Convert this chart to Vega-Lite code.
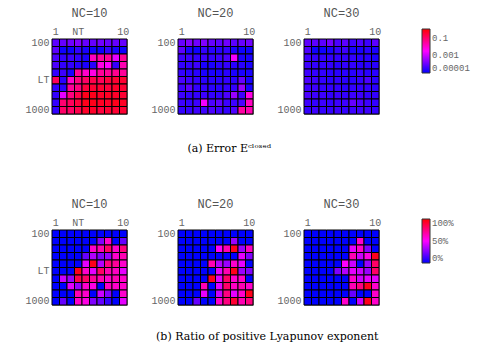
{
"$schema": "https://vega.github.io/schema/vega-lite/v6.json",
"padding": {"left": 24, "top": 6, "right": 5, "bottom": 5},
"background": "white",
"datasets": {
"e10": [
{"r":1,"c":1,"v":7.94e-5},{"r":1,"c":2,"v":1e-4},{"r":1,"c":3,"v":1.26e-4},{"r":1,"c":4,"v":1.78e-4},{"r":1,"c":5,"v":1e-4},{"r":1,"c":6,"v":1e-4},{"r":1,"c":7,"v":1.26e-4},{"r":1,"c":8,"v":1e-4},{"r":1,"c":9,"v":1e-4},{"r":1,"c":10,"v":1e-4},
{"r":2,"c":1,"v":7.94e-5},{"r":2,"c":2,"v":1.41e-5},{"r":2,"c":3,"v":1.41e-5},{"r":2,"c":4,"v":3.16e-5},{"r":2,"c":5,"v":1.78e-5},{"r":2,"c":6,"v":1.41e-5},{"r":2,"c":7,"v":1.41e-5},{"r":2,"c":8,"v":3.16e-5},{"r":2,"c":9,"v":1.78e-5},{"r":2,"c":10,"v":1.41e-5},
{"r":3,"c":1,"v":5.62e-5},{"r":3,"c":2,"v":3.16e-5},{"r":3,"c":3,"v":3.98e-5},{"r":3,"c":4,"v":3.16e-5},{"r":3,"c":5,"v":1.78e-5},{"r":3,"c":6,"v":0.0126},{"r":3,"c":7,"v":0.0251},{"r":3,"c":8,"v":0.0316},{"r":3,"c":9,"v":0.00178},{"r":3,"c":10,"v":0.0316},
{"r":4,"c":1,"v":5.62e-5},{"r":4,"c":2,"v":3.16e-5},{"r":4,"c":3,"v":3.16e-5},{"r":4,"c":4,"v":2.51e-5},{"r":4,"c":5,"v":1.78e-5},{"r":4,"c":6,"v":2.51e-5},{"r":4,"c":7,"v":0.00562},{"r":4,"c":8,"v":0.00316},{"r":4,"c":9,"v":3.16e-5},{"r":4,"c":10,"v":0.0178},
{"r":5,"c":1,"v":3.16e-5},{"r":5,"c":2,"v":3.98e-5},{"r":5,"c":3,"v":1.78e-5},{"r":5,"c":4,"v":0.0316},{"r":5,"c":5,"v":0.01},{"r":5,"c":6,"v":0.00562},{"r":5,"c":7,"v":0.0316},{"r":5,"c":8,"v":0.0316},{"r":5,"c":9,"v":0.0398},{"r":5,"c":10,"v":0.0316},
{"r":6,"c":1,"v":0.126},{"r":6,"c":2,"v":2.51e-5},{"r":6,"c":3,"v":0.01},{"r":6,"c":4,"v":0.0562},{"r":6,"c":5,"v":0.1},{"r":6,"c":6,"v":0.178},{"r":6,"c":7,"v":0.126},{"r":6,"c":8,"v":0.251},{"r":6,"c":9,"v":0.316},{"r":6,"c":10,"v":0.316},
{"r":7,"c":1,"v":3.16e-5},{"r":7,"c":2,"v":2.51e-5},{"r":7,"c":3,"v":0.0316},{"r":7,"c":4,"v":0.0562},{"r":7,"c":5,"v":0.251},{"r":7,"c":6,"v":0.316},{"r":7,"c":7,"v":0.316},{"r":7,"c":8,"v":0.251},{"r":7,"c":9,"v":0.398},{"r":7,"c":10,"v":0.316},
{"r":8,"c":1,"v":3.16e-5},{"r":8,"c":2,"v":0.00178},{"r":8,"c":3,"v":0.0562},{"r":8,"c":4,"v":0.178},{"r":8,"c":5,"v":0.562},{"r":8,"c":6,"v":0.562},{"r":8,"c":7,"v":0.398},{"r":8,"c":8,"v":0.447},{"r":8,"c":9,"v":0.398},{"r":8,"c":10,"v":0.316},
{"r":9,"c":1,"v":3.16e-5},{"r":9,"c":2,"v":0.0794},{"r":9,"c":3,"v":0.126},{"r":9,"c":4,"v":0.251},{"r":9,"c":5,"v":0.562},{"r":9,"c":6,"v":0.562},{"r":9,"c":7,"v":0.447},{"r":9,"c":8,"v":0.398},{"r":9,"c":9,"v":0.562},{"r":9,"c":10,"v":0.447},
{"r":10,"c":1,"v":3.16e-5},{"r":10,"c":2,"v":0.1},{"r":10,"c":3,"v":0.1},{"r":10,"c":4,"v":0.178},{"r":10,"c":5,"v":0.398},{"r":10,"c":6,"v":0.398},{"r":10,"c":7,"v":0.251},{"r":10,"c":8,"v":0.316},{"r":10,"c":9,"v":0.316},{"r":10,"c":10,"v":0.316}
],
"e20": [
{"r":1,"c":1,"v":1e-4},{"r":1,"c":2,"v":1.78e-4},{"r":1,"c":3,"v":1.26e-4},{"r":1,"c":4,"v":1.78e-4},{"r":1,"c":5,"v":1e-4},{"r":1,"c":6,"v":7.94e-5},{"r":1,"c":7,"v":1.26e-4},{"r":1,"c":8,"v":7.94e-5},{"r":1,"c":9,"v":1e-4},{"r":1,"c":10,"v":1.26e-4},
{"r":2,"c":1,"v":7.94e-5},{"r":2,"c":2,"v":1.78e-5},{"r":2,"c":3,"v":1.41e-5},{"r":2,"c":4,"v":3.16e-5},{"r":2,"c":5,"v":2.51e-5},{"r":2,"c":6,"v":2.51e-5},{"r":2,"c":7,"v":3.16e-5},{"r":2,"c":8,"v":1.78e-5},{"r":2,"c":9,"v":1.41e-5},{"r":2,"c":10,"v":1.41e-5},
{"r":3,"c":1,"v":3.98e-5},{"r":3,"c":2,"v":3.98e-5},{"r":3,"c":3,"v":3.16e-5},{"r":3,"c":4,"v":3.98e-5},{"r":3,"c":5,"v":3.16e-5},{"r":3,"c":6,"v":3.98e-5},{"r":3,"c":7,"v":5.62e-5},{"r":3,"c":8,"v":0.0025},{"r":3,"c":9,"v":1.78e-5},{"r":3,"c":10,"v":1.78e-5},
{"r":4,"c":1,"v":3.16e-5},{"r":4,"c":2,"v":3.16e-5},{"r":4,"c":3,"v":3.98e-5},{"r":4,"c":4,"v":1.78e-5},{"r":4,"c":5,"v":1.78e-5},{"r":4,"c":6,"v":2.51e-5},{"r":4,"c":7,"v":3.16e-5},{"r":4,"c":8,"v":2.51e-5},{"r":4,"c":9,"v":2.51e-5},{"r":4,"c":10,"v":1.78e-5},
{"r":5,"c":1,"v":3.16e-5},{"r":5,"c":2,"v":2.51e-5},{"r":5,"c":3,"v":2.51e-5},{"r":5,"c":4,"v":1.78e-5},{"r":5,"c":5,"v":1.78e-5},{"r":5,"c":6,"v":1.78e-5},{"r":5,"c":7,"v":2.51e-5},{"r":5,"c":8,"v":1.78e-5},{"r":5,"c":9,"v":1.78e-5},{"r":5,"c":10,"v":1.78e-5},
{"r":6,"c":1,"v":5.62e-5},{"r":6,"c":2,"v":3.98e-5},{"r":6,"c":3,"v":3.16e-5},{"r":6,"c":4,"v":2.51e-5},{"r":6,"c":5,"v":2.51e-5},{"r":6,"c":6,"v":2.51e-5},{"r":6,"c":7,"v":3.16e-5},{"r":6,"c":8,"v":2.51e-5},{"r":6,"c":9,"v":1e-4},{"r":6,"c":10,"v":1.78e-5},
{"r":7,"c":1,"v":3.98e-5},{"r":7,"c":2,"v":7.94e-5},{"r":7,"c":3,"v":3.16e-5},{"r":7,"c":4,"v":3.16e-5},{"r":7,"c":5,"v":2.51e-5},{"r":7,"c":6,"v":2.51e-5},{"r":7,"c":7,"v":3.16e-5},{"r":7,"c":8,"v":3.16e-5},{"r":7,"c":9,"v":3.16e-4},{"r":7,"c":10,"v":1.78e-5},
{"r":8,"c":1,"v":3.98e-5},{"r":8,"c":2,"v":3.16e-5},{"r":8,"c":3,"v":3.16e-5},{"r":8,"c":4,"v":3.98e-5},{"r":8,"c":5,"v":3.16e-5},{"r":8,"c":6,"v":3.16e-5},{"r":8,"c":7,"v":5.62e-5},{"r":8,"c":8,"v":3.16e-4},{"r":8,"c":9,"v":3.98e-5},{"r":8,"c":10,"v":0.00562},
{"r":9,"c":1,"v":3.98e-5},{"r":9,"c":2,"v":3.16e-5},{"r":9,"c":3,"v":3.98e-5},{"r":9,"c":4,"v":0.0025},{"r":9,"c":5,"v":5.62e-5},{"r":9,"c":6,"v":7.94e-5},{"r":9,"c":7,"v":3.98e-5},{"r":9,"c":8,"v":3.98e-5},{"r":9,"c":9,"v":5.62e-5},{"r":9,"c":10,"v":0.0126},
{"r":10,"c":1,"v":3.16e-5},{"r":10,"c":2,"v":3.16e-5},{"r":10,"c":3,"v":3.98e-5},{"r":10,"c":4,"v":3.98e-5},{"r":10,"c":5,"v":5.62e-5},{"r":10,"c":6,"v":3.98e-5},{"r":10,"c":7,"v":3.16e-5},{"r":10,"c":8,"v":5.62e-5},{"r":10,"c":9,"v":0.0251},{"r":10,"c":10,"v":0.0178}
],
"e30": [
{"r":1,"c":1,"v":7.94e-5},{"r":1,"c":2,"v":7.94e-5},{"r":1,"c":3,"v":7.94e-5},{"r":1,"c":4,"v":1.26e-4},{"r":1,"c":5,"v":5.62e-5},{"r":1,"c":6,"v":7.94e-5},{"r":1,"c":7,"v":3.98e-5},{"r":1,"c":8,"v":5.62e-5},{"r":1,"c":9,"v":3.98e-5},{"r":1,"c":10,"v":7.94e-5},
{"r":2,"c":1,"v":5.62e-5},{"r":2,"c":2,"v":1.41e-5},{"r":2,"c":3,"v":1.41e-5},{"r":2,"c":4,"v":1.78e-5},{"r":2,"c":5,"v":3.16e-5},{"r":2,"c":6,"v":3.98e-5},{"r":2,"c":7,"v":1.78e-5},{"r":2,"c":8,"v":1.78e-5},{"r":2,"c":9,"v":2.51e-5},{"r":2,"c":10,"v":1.78e-5},
{"r":3,"c":1,"v":3.98e-5},{"r":3,"c":2,"v":3.16e-5},{"r":3,"c":3,"v":3.16e-5},{"r":3,"c":4,"v":3.16e-5},{"r":3,"c":5,"v":3.16e-5},{"r":3,"c":6,"v":3.16e-5},{"r":3,"c":7,"v":3.16e-5},{"r":3,"c":8,"v":2.51e-5},{"r":3,"c":9,"v":2.51e-5},{"r":3,"c":10,"v":1.78e-5},
{"r":4,"c":1,"v":3.98e-5},{"r":4,"c":2,"v":3.16e-5},{"r":4,"c":3,"v":3.16e-5},{"r":4,"c":4,"v":3.16e-5},{"r":4,"c":5,"v":2.51e-5},{"r":4,"c":6,"v":3.16e-5},{"r":4,"c":7,"v":3.16e-5},{"r":4,"c":8,"v":2.51e-5},{"r":4,"c":9,"v":2.51e-5},{"r":4,"c":10,"v":2.51e-5},
{"r":5,"c":1,"v":3.98e-5},{"r":5,"c":2,"v":3.16e-5},{"r":5,"c":3,"v":3.16e-5},{"r":5,"c":4,"v":2.51e-5},{"r":5,"c":5,"v":2.51e-5},{"r":5,"c":6,"v":2.51e-5},{"r":5,"c":7,"v":2.51e-5},{"r":5,"c":8,"v":3.16e-5},{"r":5,"c":9,"v":2.51e-5},{"r":5,"c":10,"v":2.51e-5},
{"r":6,"c":1,"v":5.62e-5},{"r":6,"c":2,"v":3.98e-5},{"r":6,"c":3,"v":3.16e-5},{"r":6,"c":4,"v":2.51e-5},{"r":6,"c":5,"v":3.16e-5},{"r":6,"c":6,"v":2.51e-5},{"r":6,"c":7,"v":2.51e-5},{"r":6,"c":8,"v":3.16e-5},{"r":6,"c":9,"v":5.62e-5},{"r":6,"c":10,"v":2.51e-5},
{"r":7,"c":1,"v":3.98e-5},{"r":7,"c":2,"v":3.98e-5},{"r":7,"c":3,"v":3.16e-5},{"r":7,"c":4,"v":3.16e-5},{"r":7,"c":5,"v":3.16e-5},{"r":7,"c":6,"v":2.51e-5},{"r":7,"c":7,"v":3.16e-5},{"r":7,"c":8,"v":3.16e-5},{"r":7,"c":9,"v":3.16e-5},{"r":7,"c":10,"v":2.51e-5},
{"r":8,"c":1,"v":5.62e-5},{"r":8,"c":2,"v":3.98e-5},{"r":8,"c":3,"v":3.98e-5},{"r":8,"c":4,"v":3.16e-5},{"r":8,"c":5,"v":3.98e-5},{"r":8,"c":6,"v":3.16e-5},{"r":8,"c":7,"v":3.98e-5},{"r":8,"c":8,"v":3.98e-5},{"r":8,"c":9,"v":3.16e-5},{"r":8,"c":10,"v":3.16e-5},
{"r":9,"c":1,"v":3.98e-5},{"r":9,"c":2,"v":3.16e-5},{"r":9,"c":3,"v":3.98e-5},{"r":9,"c":4,"v":3.16e-5},{"r":9,"c":5,"v":3.98e-5},{"r":9,"c":6,"v":3.98e-5},{"r":9,"c":7,"v":1e-4},{"r":9,"c":8,"v":5.62e-5},{"r":9,"c":9,"v":3.98e-5},{"r":9,"c":10,"v":3.16e-5},
{"r":10,"c":1,"v":3.16e-5},{"r":10,"c":2,"v":3.98e-5},{"r":10,"c":3,"v":3.16e-5},{"r":10,"c":4,"v":3.16e-5},{"r":10,"c":5,"v":3.98e-5},{"r":10,"c":6,"v":3.16e-5},{"r":10,"c":7,"v":3.98e-5},{"r":10,"c":8,"v":3.98e-5},{"r":10,"c":9,"v":3.98e-5},{"r":10,"c":10,"v":3.16e-5}
],
"l10": [
{"r":1,"c":1,"v":0},{"r":1,"c":2,"v":0},{"r":1,"c":3,"v":0},{"r":1,"c":4,"v":0},{"r":1,"c":5,"v":0},{"r":1,"c":6,"v":0},{"r":1,"c":7,"v":0},{"r":1,"c":8,"v":0},{"r":1,"c":9,"v":0},{"r":1,"c":10,"v":0},
{"r":2,"c":1,"v":0},{"r":2,"c":2,"v":0},{"r":2,"c":3,"v":0},{"r":2,"c":4,"v":0},{"r":2,"c":5,"v":0},{"r":2,"c":6,"v":0},{"r":2,"c":7,"v":0.25},{"r":2,"c":8,"v":0.6},{"r":2,"c":9,"v":0},{"r":2,"c":10,"v":0.2},
{"r":3,"c":1,"v":0},{"r":3,"c":2,"v":0},{"r":3,"c":3,"v":0},{"r":3,"c":4,"v":0},{"r":3,"c":5,"v":0},{"r":3,"c":6,"v":0.6},{"r":3,"c":7,"v":0.65},{"r":3,"c":8,"v":0.8},{"r":3,"c":9,"v":0.6},{"r":3,"c":10,"v":0.75},
{"r":4,"c":1,"v":0},{"r":4,"c":2,"v":0},{"r":4,"c":3,"v":0},{"r":4,"c":4,"v":0},{"r":4,"c":5,"v":0.2},{"r":4,"c":6,"v":0.35},{"r":4,"c":7,"v":0.25},{"r":4,"c":8,"v":0.3},{"r":4,"c":9,"v":0.6},{"r":4,"c":10,"v":0.65},
{"r":5,"c":1,"v":0},{"r":5,"c":2,"v":0},{"r":5,"c":3,"v":0},{"r":5,"c":4,"v":0},{"r":5,"c":5,"v":0.45},{"r":5,"c":6,"v":0.95},{"r":5,"c":7,"v":0.35},{"r":5,"c":8,"v":0.75},{"r":5,"c":9,"v":0.7},{"r":5,"c":10,"v":0.6},
{"r":6,"c":1,"v":0},{"r":6,"c":2,"v":0},{"r":6,"c":3,"v":0},{"r":6,"c":4,"v":0.95},{"r":6,"c":5,"v":0.6},{"r":6,"c":6,"v":0.45},{"r":6,"c":7,"v":0.8},{"r":6,"c":8,"v":0.65},{"r":6,"c":9,"v":0.62},{"r":6,"c":10,"v":0.45},
{"r":7,"c":1,"v":0},{"r":7,"c":2,"v":0.4},{"r":7,"c":3,"v":0.3},{"r":7,"c":4,"v":0.85},{"r":7,"c":5,"v":0.8},{"r":7,"c":6,"v":0.7},{"r":7,"c":7,"v":0.65},{"r":7,"c":8,"v":0.6},{"r":7,"c":9,"v":0.65},{"r":7,"c":10,"v":0.6},
{"r":8,"c":1,"v":0},{"r":8,"c":2,"v":0},{"r":8,"c":3,"v":0.45},{"r":8,"c":4,"v":0.3},{"r":8,"c":5,"v":0.6},{"r":8,"c":6,"v":0.55},{"r":8,"c":7,"v":0},{"r":8,"c":8,"v":0.62},{"r":8,"c":9,"v":0.6},{"r":8,"c":10,"v":0.6},
{"r":9,"c":1,"v":0},{"r":9,"c":2,"v":0},{"r":9,"c":3,"v":0},{"r":9,"c":4,"v":0.65},{"r":9,"c":5,"v":0.6},{"r":9,"c":6,"v":0},{"r":9,"c":7,"v":0.4},{"r":9,"c":8,"v":0.25},{"r":9,"c":9,"v":0},{"r":9,"c":10,"v":0.6},
{"r":10,"c":1,"v":0},{"r":10,"c":2,"v":0.2},{"r":10,"c":3,"v":0},{"r":10,"c":4,"v":0.6},{"r":10,"c":5,"v":0.55},{"r":10,"c":6,"v":0.25},{"r":10,"c":7,"v":0.2},{"r":10,"c":8,"v":0.1},{"r":10,"c":9,"v":0},{"r":10,"c":10,"v":0.45}
],
"l20": [
{"r":1,"c":1,"v":0},{"r":1,"c":2,"v":0},{"r":1,"c":3,"v":0},{"r":1,"c":4,"v":0},{"r":1,"c":5,"v":0},{"r":1,"c":6,"v":0},{"r":1,"c":7,"v":0},{"r":1,"c":8,"v":0},{"r":1,"c":9,"v":0},{"r":1,"c":10,"v":0},
{"r":2,"c":1,"v":0},{"r":2,"c":2,"v":0},{"r":2,"c":3,"v":0},{"r":2,"c":4,"v":0},{"r":2,"c":5,"v":0},{"r":2,"c":6,"v":0},{"r":2,"c":7,"v":0},{"r":2,"c":8,"v":0.3},{"r":2,"c":9,"v":0},{"r":2,"c":10,"v":0},
{"r":3,"c":1,"v":0},{"r":3,"c":2,"v":0},{"r":3,"c":3,"v":0},{"r":3,"c":4,"v":0},{"r":3,"c":5,"v":0},{"r":3,"c":6,"v":0.5},{"r":3,"c":7,"v":0.65},{"r":3,"c":8,"v":0.95},{"r":3,"c":9,"v":0.3},{"r":3,"c":10,"v":0.62},
{"r":4,"c":1,"v":0},{"r":4,"c":2,"v":0},{"r":4,"c":3,"v":0},{"r":4,"c":4,"v":0},{"r":4,"c":5,"v":0},{"r":4,"c":6,"v":0},{"r":4,"c":7,"v":0},{"r":4,"c":8,"v":0},{"r":4,"c":9,"v":0.45},{"r":4,"c":10,"v":0.25},
{"r":5,"c":1,"v":0},{"r":5,"c":2,"v":0},{"r":5,"c":3,"v":0},{"r":5,"c":4,"v":0},{"r":5,"c":5,"v":0.65},{"r":5,"c":6,"v":0.35},{"r":5,"c":7,"v":0.3},{"r":5,"c":8,"v":0.6},{"r":5,"c":9,"v":0.45},{"r":5,"c":10,"v":0},
{"r":6,"c":1,"v":0},{"r":6,"c":2,"v":0},{"r":6,"c":3,"v":0},{"r":6,"c":4,"v":0},{"r":6,"c":5,"v":0},{"r":6,"c":6,"v":0.45},{"r":6,"c":7,"v":0.65},{"r":6,"c":8,"v":0.95},{"r":6,"c":9,"v":0.3},{"r":6,"c":10,"v":0.25},
{"r":7,"c":1,"v":0},{"r":7,"c":2,"v":0},{"r":7,"c":3,"v":0},{"r":7,"c":4,"v":0},{"r":7,"c":5,"v":0.95},{"r":7,"c":6,"v":0.45},{"r":7,"c":7,"v":0.8},{"r":7,"c":8,"v":0.6},{"r":7,"c":9,"v":0.6},{"r":7,"c":10,"v":0},
{"r":8,"c":1,"v":0},{"r":8,"c":2,"v":0},{"r":8,"c":3,"v":0},{"r":8,"c":4,"v":0.65},{"r":8,"c":5,"v":0},{"r":8,"c":6,"v":0.45},{"r":8,"c":7,"v":0.8},{"r":8,"c":8,"v":0.62},{"r":8,"c":9,"v":0.65},{"r":8,"c":10,"v":0.6},
{"r":9,"c":1,"v":0},{"r":9,"c":2,"v":0},{"r":9,"c":3,"v":0},{"r":9,"c":4,"v":0.45},{"r":9,"c":5,"v":0},{"r":9,"c":6,"v":0.4},{"r":9,"c":7,"v":0.75},{"r":9,"c":8,"v":0.45},{"r":9,"c":9,"v":0.6},{"r":9,"c":10,"v":0.95},
{"r":10,"c":1,"v":0},{"r":10,"c":2,"v":0},{"r":10,"c":3,"v":0.2},{"r":10,"c":4,"v":0},{"r":10,"c":5,"v":0},{"r":10,"c":6,"v":0.6},{"r":10,"c":7,"v":0.75},{"r":10,"c":8,"v":0.9},{"r":10,"c":9,"v":0.65},{"r":10,"c":10,"v":0.75}
],
"l30": [
{"r":1,"c":1,"v":0},{"r":1,"c":2,"v":0},{"r":1,"c":3,"v":0},{"r":1,"c":4,"v":0},{"r":1,"c":5,"v":0},{"r":1,"c":6,"v":0},{"r":1,"c":7,"v":0},{"r":1,"c":8,"v":0},{"r":1,"c":9,"v":0},{"r":1,"c":10,"v":0},
{"r":2,"c":1,"v":0},{"r":2,"c":2,"v":0},{"r":2,"c":3,"v":0},{"r":2,"c":4,"v":0},{"r":2,"c":5,"v":0},{"r":2,"c":6,"v":0},{"r":2,"c":7,"v":0},{"r":2,"c":8,"v":0.6},{"r":2,"c":9,"v":0},{"r":2,"c":10,"v":0},
{"r":3,"c":1,"v":0},{"r":3,"c":2,"v":0},{"r":3,"c":3,"v":0},{"r":3,"c":4,"v":0},{"r":3,"c":5,"v":0},{"r":3,"c":6,"v":0},{"r":3,"c":7,"v":0.45},{"r":3,"c":8,"v":0.6},{"r":3,"c":9,"v":0.25},{"r":3,"c":10,"v":0},
{"r":4,"c":1,"v":0},{"r":4,"c":2,"v":0},{"r":4,"c":3,"v":0},{"r":4,"c":4,"v":0},{"r":4,"c":5,"v":0},{"r":4,"c":6,"v":0},{"r":4,"c":7,"v":0.65},{"r":4,"c":8,"v":0.4},{"r":4,"c":9,"v":0.55},{"r":4,"c":10,"v":0.95},
{"r":5,"c":1,"v":0},{"r":5,"c":2,"v":0},{"r":5,"c":3,"v":0},{"r":5,"c":4,"v":0},{"r":5,"c":5,"v":0},{"r":5,"c":6,"v":0.5},{"r":5,"c":7,"v":0.4},{"r":5,"c":8,"v":0},{"r":5,"c":9,"v":0.3},{"r":5,"c":10,"v":0.8},
{"r":6,"c":1,"v":0},{"r":6,"c":2,"v":0},{"r":6,"c":3,"v":0},{"r":6,"c":4,"v":0},{"r":6,"c":5,"v":0.25},{"r":6,"c":6,"v":0.35},{"r":6,"c":7,"v":0.45},{"r":6,"c":8,"v":0.4},{"r":6,"c":9,"v":0.3},{"r":6,"c":10,"v":0.8},
{"r":7,"c":1,"v":0},{"r":7,"c":2,"v":0},{"r":7,"c":3,"v":0},{"r":7,"c":4,"v":0},{"r":7,"c":5,"v":0},{"r":7,"c":6,"v":0},{"r":7,"c":7,"v":0.6},{"r":7,"c":8,"v":0.4},{"r":7,"c":9,"v":0.45},{"r":7,"c":10,"v":0.45},
{"r":8,"c":1,"v":0},{"r":8,"c":2,"v":0},{"r":8,"c":3,"v":0},{"r":8,"c":4,"v":0},{"r":8,"c":5,"v":0},{"r":8,"c":6,"v":0},{"r":8,"c":7,"v":0.65},{"r":8,"c":8,"v":0.75},{"r":8,"c":9,"v":0.95},{"r":8,"c":10,"v":0.6},
{"r":9,"c":1,"v":0},{"r":9,"c":2,"v":0},{"r":9,"c":3,"v":0},{"r":9,"c":4,"v":0},{"r":9,"c":5,"v":0},{"r":9,"c":6,"v":0},{"r":9,"c":7,"v":0.2},{"r":9,"c":8,"v":0},{"r":9,"c":9,"v":0},{"r":9,"c":10,"v":0.6},
{"r":10,"c":1,"v":0},{"r":10,"c":2,"v":0},{"r":10,"c":3,"v":0},{"r":10,"c":4,"v":0},{"r":10,"c":5,"v":0},{"r":10,"c":6,"v":0.6},{"r":10,"c":7,"v":0},{"r":10,"c":8,"v":0.4},{"r":10,"c":9,"v":0.95},{"r":10,"c":10,"v":0.6}
]
},
"vconcat": [
{
"title": {"text": "(a) Error Eᶜˡᵒˢᵉᵈ", "orient": "bottom", "anchor": "middle", "font": "DejaVu Serif", "fontSize": 11, "fontWeight": "normal", "color": "#000", "offset": 28, "dx": -18},
"spacing": 20,
"hconcat": [
{"data": {"name": "e10"}, "title": "NC=10", "width": 75, "height": 75,
 "mark": {"type": "rect", "stroke": "#000", "strokeWidth": 1},
 "encoding": {
  "x": {"field": "c", "type": "ordinal", "title": null, "axis": {"orient": "top", "labelExpr": "datum.value == 1 ? '1' : datum.value == 4 ? 'NT' : datum.value == 10 ? '10' : ''"}},
  "y": {"field": "r", "type": "ordinal", "title": null, "axis": {"labelExpr": "datum.value == 1 ? '100' : datum.value == 6 ? 'LT' : datum.value == 10 ? '1000' : ''"}},
  "color": {"field": "v", "type": "quantitative", "scale": {"type": "log", "domain": [0.00001, 0.00316, 1], "range": ["#0000ff", "#ff00ff", "#ff0000"], "interpolate": "rgb", "clamp": true}, "legend": {"title": null, "values": [0.00001, 0.001, 0.1], "format": ".5~f", "orient": "none", "legendX": 370, "legendY": -10}}
 }},
{"data": {"name": "e20"}, "title": "NC=20", "width": 75, "height": 75,
 "mark": {"type": "rect", "stroke": "#000", "strokeWidth": 1},
 "encoding": {
  "x": {"field": "c", "type": "ordinal", "title": null, "axis": {"orient": "top", "labelExpr": "datum.value == 1 ? '1' : datum.value == 10 ? '10' : ''"}},
  "y": {"field": "r", "type": "ordinal", "title": null, "axis": {"labelExpr": "datum.value == 1 ? '100' : datum.value == 10 ? '1000' : ''"}},
  "color": {"field": "v", "type": "quantitative", "scale": {"type": "log", "domain": [0.00001, 0.00316, 1], "range": ["#0000ff", "#ff00ff", "#ff0000"], "interpolate": "rgb", "clamp": true}, "legend": {"title": null, "values": [0.00001, 0.001, 0.1], "format": ".5~f", "orient": "none", "legendX": 370, "legendY": -10}}
 }},
{"data": {"name": "e30"}, "title": "NC=30", "width": 75, "height": 75,
 "mark": {"type": "rect", "stroke": "#000", "strokeWidth": 1},
 "encoding": {
  "x": {"field": "c", "type": "ordinal", "title": null, "axis": {"orient": "top", "labelExpr": "datum.value == 1 ? '1' : datum.value == 10 ? '10' : ''"}},
  "y": {"field": "r", "type": "ordinal", "title": null, "axis": {"labelExpr": "datum.value == 1 ? '100' : datum.value == 10 ? '1000' : ''"}},
  "color": {"field": "v", "type": "quantitative", "scale": {"type": "log", "domain": [0.00001, 0.00316, 1], "range": ["#0000ff", "#ff00ff", "#ff0000"], "interpolate": "rgb", "clamp": true}, "legend": {"title": null, "values": [0.00001, 0.001, 0.1], "format": ".5~f", "orient": "none", "legendX": 370, "legendY": -10}}
 }}
]
},
{
"title": {"text": "(b) Ratio of positive Lyapunov exponent", "orient": "bottom", "anchor": "middle", "font": "DejaVu Serif", "fontSize": 11, "fontWeight": "normal", "color": "#000", "offset": 25, "dx": 28},
"spacing": 20,
"hconcat": [
{"data": {"name": "l10"}, "title": "NC=10", "width": 75, "height": 75,
 "mark": {"type": "rect", "stroke": "#000", "strokeWidth": 1},
 "encoding": {
  "x": {"field": "c", "type": "ordinal", "title": null, "axis": {"orient": "top", "labelExpr": "datum.value == 1 ? '1' : datum.value == 4 ? 'NT' : datum.value == 10 ? '10' : ''"}},
  "y": {"field": "r", "type": "ordinal", "title": null, "axis": {"labelExpr": "datum.value == 1 ? '100' : datum.value == 6 ? 'LT' : datum.value == 10 ? '1000' : ''"}},
  "color": {"field": "v", "type": "quantitative", "scale": {"domain": [0, 0.5, 1], "range": ["#0000ff", "#ff00ff", "#ff0000"], "interpolate": "rgb"}, "legend": {"title": null, "values": [0, 0.5, 1], "format": ".0%", "orient": "none", "legendX": 370, "legendY": -11}}
 }},
{"data": {"name": "l20"}, "title": "NC=20", "width": 75, "height": 75,
 "mark": {"type": "rect", "stroke": "#000", "strokeWidth": 1},
 "encoding": {
  "x": {"field": "c", "type": "ordinal", "title": null, "axis": {"orient": "top", "labelExpr": "datum.value == 1 ? '1' : datum.value == 10 ? '10' : ''"}},
  "y": {"field": "r", "type": "ordinal", "title": null, "axis": {"labelExpr": "datum.value == 1 ? '100' : datum.value == 10 ? '1000' : ''"}},
  "color": {"field": "v", "type": "quantitative", "scale": {"domain": [0, 0.5, 1], "range": ["#0000ff", "#ff00ff", "#ff0000"], "interpolate": "rgb"}, "legend": {"title": null, "values": [0, 0.5, 1], "format": ".0%", "orient": "none", "legendX": 370, "legendY": -11}}
 }},
{"data": {"name": "l30"}, "title": "NC=30", "width": 75, "height": 75,
 "mark": {"type": "rect", "stroke": "#000", "strokeWidth": 1},
 "encoding": {
  "x": {"field": "c", "type": "ordinal", "title": null, "axis": {"orient": "top", "labelExpr": "datum.value == 1 ? '1' : datum.value == 10 ? '10' : ''"}},
  "y": {"field": "r", "type": "ordinal", "title": null, "axis": {"labelExpr": "datum.value == 1 ? '100' : datum.value == 10 ? '1000' : ''"}},
  "color": {"field": "v", "type": "quantitative", "scale": {"domain": [0, 0.5, 1], "range": ["#0000ff", "#ff00ff", "#ff0000"], "interpolate": "rgb"}, "legend": {"title": null, "values": [0, 0.5, 1], "format": ".0%", "orient": "none", "legendX": 370, "legendY": -11}}
 }}
]
}
],
"spacing": 42,
"resolve": {"scale": {"color": "independent"}, "legend": {"color": "independent"}},
"config": {
 "view": {"stroke": "#888", "strokeWidth": 1},
 "axis": {"domain": false, "ticks": false, "labelFont": "Liberation Mono", "labelFontSize": 10, "labelColor": "#666", "labelPadding": 3, "labelAngle": 0, "grid": false},
 "title": {"font": "Liberation Mono", "fontSize": 12, "fontWeight": "normal", "color": "#555", "offset": 6},
 "legend": {"labelFont": "Liberation Mono", "labelFontSize": 9, "labelColor": "#666", "labelOffset": 6, "gradientLength": 44, "gradientThickness": 8, "gradientStrokeColor": "#333", "gradientStrokeWidth": 1}
}
}
